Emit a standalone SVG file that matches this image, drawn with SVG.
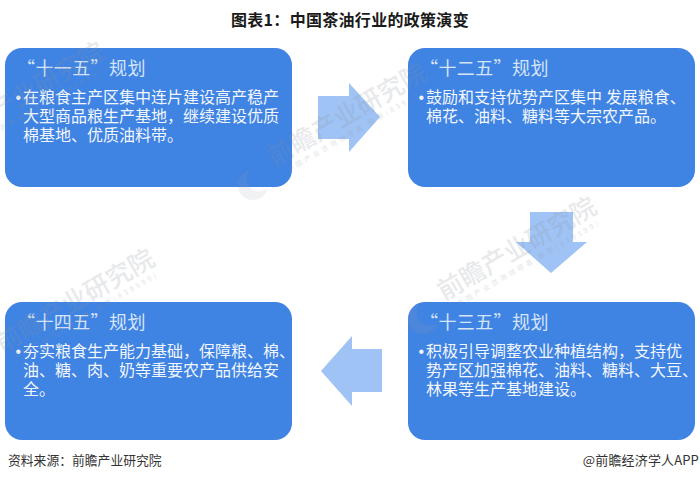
<svg xmlns="http://www.w3.org/2000/svg" width="700" height="481" viewBox="0 0 700 481">
<defs>
<g id="wm">
<path d="M-8,-12 A15 15 0 1 0 -2,12 A12 12 0 1 1 -8,-12Z" fill="#9aa3ad" opacity=".14" transform="translate(-14,3)"/>
<text class="wm" x="0" y="0">前瞻产业研究院</text>
<text class="wms" x="10" y="12" textLength="162">中国产业咨询领导者 股票(839599)</text>
</g>
</defs>
<style>
text{font-family:"Noto Sans CJK SC","Liberation Sans",sans-serif}
.box{fill:#3f83e3}
.arrow{fill:#a0c3f5}
.h{font-size:18px;fill:#d6e4f8}
.b{font-size:16px;fill:#f2f6fd}
.dot{font-family:"Liberation Sans",sans-serif}
.wm{font-size:25.5px;fill:#8a94a0;font-weight:500;opacity:.2}
.wms{font-size:7px;fill:#8a94a0;opacity:.25}
</style>
<rect width="700" height="481" fill="#fff"/>
<text x="350" y="26" text-anchor="middle" font-size="16" font-weight="700" letter-spacing=".3" fill="#1a1a1a">图表1：中国茶油行业的政策演变</text>
<g id="connectors">
<polygon class="arrow" points="318,96 349,96 349,83 380,117 349,152 349,139 318,139"/>
<polygon class="arrow" points="530,212 573,212 573,242 587,242 551,273 516,242 530,242"/>
<polygon class="arrow" points="382,349 352,349 352,336 321,371 352,406 352,392 382,392"/>
</g>
<g id="node-1"><rect class="box" x="5" y="48" width="287" height="139" rx="17"/>
<text class="h" x="17" y="75" letter-spacing=".4">“十一五”规划</text>
<text class="b" x="15.5" y="103"><tspan class="dot">•</tspan><tspan dx="2">在粮食主产区集中连片建设高产稳产</tspan></text>
<text class="b" x="23" y="122">大型商品粮生产基地，继续建设优质</text>
<text class="b" x="23" y="141">棉基地、优质油料带。</text></g>
<g id="node-2"><rect class="box" x="408" y="48" width="287" height="139" rx="17"/>
<text class="h" x="420" y="75" letter-spacing=".4">“十二五”规划</text>
<text class="b" x="418.5" y="103"><tspan class="dot">•</tspan><tspan dx="2">鼓励和支持优势产区集中 发展粮食、</tspan></text>
<text class="b" x="426" y="122">棉花、油料、糖料等大宗农产品。</text></g>
<g id="node-3"><rect class="box" x="408" y="302" width="287" height="138" rx="17"/>
<text class="h" x="420" y="329" letter-spacing=".4">“十三五”规划</text>
<text class="b" x="418.5" y="357"><tspan class="dot">•</tspan><tspan dx="2">积极引导调整农业种植结构，支持优</tspan></text>
<text class="b" x="426" y="376">势产区加强棉花、油料、糖料、大豆、</text>
<text class="b" x="426" y="395">林果等生产基地建设。</text></g>
<g id="node-4"><rect class="box" x="5" y="302" width="287" height="138" rx="17"/>
<text class="h" x="17" y="329" letter-spacing=".4">“十四五”规划</text>
<text class="b" x="15.5" y="357"><tspan class="dot">•</tspan><tspan dx="2">夯实粮食生产能力基础，保障粮、棉、</tspan></text>
<text class="b" x="23" y="376">油、糖、肉、奶等重要农产品供给安</text>
<text class="b" x="23" y="395">全。</text></g>
<g id="watermarks">
<use href="#wm" transform="translate(274,167) rotate(-30)"/>
<use href="#wm" transform="translate(444,301) rotate(-30)"/>
<use href="#wm" transform="translate(2,353) rotate(-30)"/>
<use href="#wm" transform="translate(-48,146) rotate(-30)"/>
</g>
<text x="8" y="465" font-size="12.8" fill="#333">资料来源：前瞻产业研究院</text>
<text x="699" y="465" text-anchor="end" font-size="13" letter-spacing=".15" fill="#333">@前瞻经济学人APP</text>
</svg>
